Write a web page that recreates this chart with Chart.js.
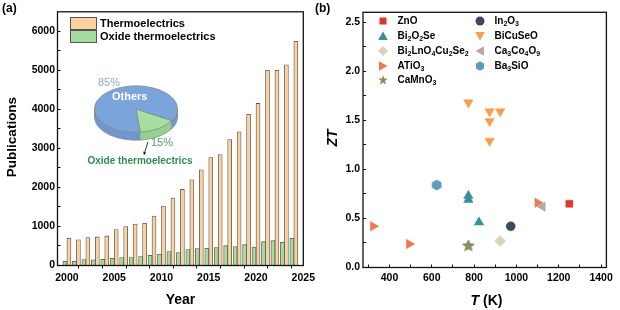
<!DOCTYPE html>
<html>
<head>
<meta charset="utf-8">
<script src="https://cdn.jsdelivr.net/npm/chart.js@4.4.1/dist/chart.umd.min.js"></script>
<style>
body{margin:0;background:#fff;}
#wrap{position:relative;width:620px;height:310px;overflow:hidden;font-family:"Liberation Sans",Arial,sans-serif;}
canvas{position:absolute;}
.t{position:absolute;white-space:nowrap;line-height:1;color:#000;}
.b{font-weight:bold;}
.c{transform:translate(-50%,-50%);}
.sw{position:absolute;box-sizing:border-box;border:1px solid #555;}
.lg{position:absolute;white-space:nowrap;font-weight:bold;font-size:10px;line-height:12px;}
.lg sub{font-size:7px;vertical-align:-2px;line-height:0;}
.mk{position:absolute;}
</style>
</head>
<body>
<div id="wrap">
  <canvas id="pubs" width="330" height="310" style="left:0;top:0"></canvas>
  <canvas id="share" width="90" height="90" style="left:91px;top:63.5px"></canvas>
  <canvas id="zt" width="310" height="310" style="left:310px;top:0"></canvas>

  <div class="t b" style="left:2px;top:2px;font-size:12px">(a)</div>
  <div class="t b" style="left:315px;top:2px;font-size:12px">(b)</div>

  <div class="sw" style="left:70px;top:17px;width:27px;height:13px;background:#FDD19E"></div>
  <div class="sw" style="left:70px;top:30px;width:27px;height:13px;background:#A6DC9E"></div>
  <div class="t b" style="left:100px;top:18px;font-size:11px">Thermoelectrics</div>
  <div class="t b" style="left:100px;top:31px;font-size:11px">Oxide thermoelectrics</div>

  <div class="t" style="left:98px;top:77px;font-size:11px;color:#8DAACA">85%</div>
  <div class="t b" style="left:112px;top:91px;font-size:11px;color:#fff">Others</div>
  <div class="t" style="left:151px;top:137px;font-size:11px;color:#4AA46A">15%</div>
  <svg class="mk" style="left:140px;top:141px" width="12" height="16">
    <line x1="8" y1="1" x2="4.6" y2="11.5" stroke="#222" stroke-width="0.9"/>
    <polygon points="3.2,10.5 6.2,11.4 3.9,14.5" fill="#222"/>
  </svg>
  <div class="t b c" style="left:140px;top:161px;font-size:10px;color:#2E8E4F">Oxide thermoelectrics</div>

  <div class="t b c" style="left:12px;top:137px;font-size:13.5px;transform:translate(-50%,-50%) rotate(-90deg)">Publications</div>
  <div class="t b c" style="left:180.5px;top:299px;font-size:14px">Year</div>
  <div class="t b c" style="left:332px;top:138px;font-size:14px;font-style:italic;transform:translate(-50%,-50%) rotate(-90deg)">ZT</div>
  <div class="t b c" style="left:486.5px;top:300px;font-size:14px"><i>T</i> (K)</div>

  <div id="legendB"></div>
</div>

<script>
// (a) publications per year
const years = [2000,2001,2002,2003,2004,2005,2006,2007,2008,2009,2010,2011,2012,
               2013,2014,2015,2016,2017,2018,2019,2020,2021,2022,2023,2024];
const thermoPubs = [700,660,715,732,757,920,996,1064,1081,1268,1523,1728,1949,
                    2196,2451,2766,2840,3228,3424,3873,4153,5000,5000,5140,5746];
const oxidePubs = [108,110,153,144,161,186,203,203,229,263,288,356,330,
                   407,432,441,458,508,483,534,475,610,636,593,695];
const yearTicks = [2000,2002.5,2005,2007.5,2010,2012.5,2015,2017.5,2020,2022.5,2025];
const yearLabels = [2000,2005,2010,2015,2020,2025];
const pubTicks = [0,500,1000,1500,2000,2500,3000,3500,4000,4500,5000,5500,6000];
const pubLabels = [0,1000,2000,3000,4000,5000,6000];

// inset pie
const pieLabels = ['Oxide thermoelectrics','Others'];
const pieShare = [15,85];

// (b) ZT against temperature
const znoT = [1250], znoZT = [0.65];
const bi2o2seT = [773,773,823], bi2o2seZT = [0.73,0.69,0.46];
const bi2lnT = [923], bi2lnZT = [0.27];
const atio3T = [323,493,1100], atio3ZT = [0.42,0.24,0.66];
const camno3T = [773], camno3ZT = [0.22];
const in2o3T = [973], in2o3ZT = [0.42];
const bicuseoT = [773,873,923,873,873], bicuseoZT = [1.68,1.59,1.59,1.49,1.29];
const ca3co4o9T = [1123], ca3co4o9ZT = [0.62];
const ba3sioT = [623], ba3sioZT = [0.84];
const tempTicks = [300,400,500,600,700,800,900,1000,1100,1200,1300,1400];
const tempLabels = [400,600,800,1000,1200,1400];
const ztTicks = [0,0.25,0.5,0.75,1,1.25,1.5,1.75,2,2.25,2.5];
const ztLabels = [0,0.5,1,1.5,2,2.5];

const FONT = 'Liberation Sans';
const tickFont = {family: FONT, size: 10.5, weight: 'bold'};

const frame = {
  id: 'frame',
  afterDraw(chart) {
    const {ctx, chartArea: a} = chart;
    ctx.save();
    ctx.strokeStyle = '#111';
    ctx.lineWidth = 1.3;
    ctx.strokeRect(a.left, a.top, a.right - a.left, a.bottom - a.top);
    ctx.restore();
  }
};

function pairs(xs, ys) {
  return xs.map((x, i) => ({x: x, y: ys[i]}));
}

function fixTicks(list) {
  return scale => { scale.ticks = list.map(v => ({value: v})); };
}

// ---------- panel (a)
new Chart(document.getElementById('pubs'), {
  type: 'bar',
  data: {
    datasets: [{
      label: 'Oxide thermoelectrics',
      data: pairs(years, oxidePubs),
      backgroundColor: '#A6DC9E',
      borderColor: '#555',
      borderWidth: 0.8,
      barThickness: 4
    }, {
      label: 'Thermoelectrics',
      data: pairs(years, thermoPubs),
      backgroundColor: '#FDD19E',
      borderColor: '#555',
      borderWidth: 0.8,
      barThickness: 4
    }]
  },
  options: {
    responsive: false,
    animation: false,
    events: [],
    layout: {padding: {top: 8.3, right: 26.7, left: 0, bottom: 0}},
    plugins: {legend: {display: false}, tooltip: {enabled: false}},
    scales: {
      x: {
        type: 'linear', min: 1999, max: 2025, offset: false,
        afterBuildTicks: fixTicks(yearTicks),
        afterFit: s => { s.height = 44.5; },
        ticks: {autoSkip: false, maxRotation: 0, font: tickFont, color: '#000', padding: 3,
                callback: v => yearLabels.includes(v) ? String(v) : ''},
        grid: {drawOnChartArea: false, tickLength: 3, tickColor: '#111'},
        border: {display: false}
      },
      y: {
        min: 0, max: 6500,
        afterBuildTicks: fixTicks(pubTicks),
        afterFit: s => { s.width = 57.5; },
        ticks: {autoSkip: false, font: tickFont, color: '#000', padding: 5.5,
                callback: v => pubLabels.includes(v) ? String(v) : ''},
        grid: {drawOnChartArea: false, tickLength: -3, tickColor: '#111'},
        border: {display: false}
      }
    }
  },
  plugins: [frame]
});

// ---------- inset 3D pie
const squash = 23.5 / 42;
const depth = 8;
const sideColors = ['#94D190', '#6E98CF'];
const pie3d = {
  id: 'pie3d',
  beforeDatasetsDraw(chart) {
    const ctx = chart.ctx;
    const arcs = chart.getDatasetMeta(0).data;
    const cx = arcs[0].x, cy = arcs[0].y, r = arcs[0].outerRadius;
    ctx.save();
    ctx.translate(cx, cy);
    ctx.scale(1, squash);
    ctx.translate(-cx, -cy);
    for (let k = depth; k >= 1; k--) {
      ctx.save();
      ctx.translate(0, k / squash);
      arcs.forEach((a, i) => {
        const o = a.options;
        a.options = Object.assign({}, o, {backgroundColor: sideColors[i], borderWidth: k === depth ? 1 : 0});
        a.draw(ctx);
        a.options = o;
      });
      ctx.restore();
    }
    ctx.strokeStyle = '#8a8a8a';
    ctx.lineWidth = 1;
    ctx.beginPath();
    ctx.moveTo(cx - r, cy); ctx.lineTo(cx - r, cy + depth / squash);
    ctx.moveTo(cx + r, cy); ctx.lineTo(cx + r, cy + depth / squash);
    ctx.stroke();
  },
  afterDatasetsDraw(chart) {
    chart.ctx.restore();
  }
};

new Chart(document.getElementById('share'), {
  type: 'pie',
  data: {
    labels: pieLabels,
    datasets: [{
      data: pieShare,
      backgroundColor: ['#A6DFA2', '#7BA5DA'],
      borderColor: '#8a8a8a',
      borderWidth: 1,
      clip: false
    }]
  },
  options: {
    responsive: false,
    animation: false,
    events: [],
    rotation: 120,
    layout: {padding: 3},
    plugins: {legend: {display: false}, tooltip: {enabled: false}}
  },
  plugins: [pie3d]
});

// ---------- panel (b)
function shapeImg(color, edge, r, kind) {
  const s = Math.ceil(r * 2 + 2);
  const c = document.createElement('canvas');
  c.width = c.height = s;
  const g = c.getContext('2d');
  g.beginPath();
  const n = kind === 'star' ? 10 : 6;
  for (let i = 0; i < n; i++) {
    const a = -Math.PI / 2 + i * 2 * Math.PI / n;
    const rr = (kind === 'star' && i % 2) ? r * 0.45 : r;
    g.lineTo(s / 2 + rr * Math.cos(a), s / 2 + rr * Math.sin(a));
  }
  g.closePath();
  g.fillStyle = color;
  g.fill();
  g.strokeStyle = edge;
  g.lineWidth = 0.7;
  g.stroke();
  return c;
}

const series = [
  {name: 'ZnO', T: znoT, ZT: znoZT, color: '#D8382E', style: 'rect', rot: 0, r: 5},
  {name: 'Bi2O2Se', T: bi2o2seT, ZT: bi2o2seZT, color: '#3B8E9C', style: 'triangle', rot: 0, r: 5.5},
  {name: 'Bi2LnO4Cu2Se2', T: bi2lnT, ZT: bi2lnZT, color: '#D6D5B6', style: 'rectRot', rot: 0, r: 5.5},
  {name: 'ATiO3', T: atio3T, ZT: atio3ZT, color: '#EC7A4E', style: 'triangle', rot: 90, r: 5.5},
  {name: 'CaMnO3', T: camno3T, ZT: camno3ZT, color: '#8D8C5A', style: shapeImg('#8D8C5A', '#6f6e45', 6, 'star'), rot: 0, r: 6},
  {name: 'In2O3', T: in2o3T, ZT: in2o3ZT, color: '#3A4B5C', style: 'circle', rot: 0, r: 4.5},
  {name: 'BiCuSeO', T: bicuseoT, ZT: bicuseoZT, color: '#F4A04E', style: 'triangle', rot: 180, r: 5.5},
  {name: 'Ca3Co4O9', T: ca3co4o9T, ZT: ca3co4o9ZT, color: '#B3ABA3', style: 'triangle', rot: -90, r: 5.5},
  {name: 'Ba3SiO', T: ba3sioT, ZT: ba3sioZT, color: '#5E9DBF', style: shapeImg('#5E9DBF', '#4a85a6', 5, 'hex'), rot: 0, r: 5}
];

new Chart(document.getElementById('zt'), {
  type: 'scatter',
  data: {
    datasets: series.map(s => ({
      label: s.name,
      data: pairs(s.T, s.ZT),
      pointStyle: s.style,
      rotation: s.rot,
      pointRadius: s.r,
      backgroundColor: s.color,
      borderColor: s.color,
      borderWidth: 0.5
    }))
  },
  options: {
    responsive: false,
    animation: false,
    events: [],
    layout: {padding: {top: 8, right: 10, left: 0, bottom: 0}},
    plugins: {legend: {display: false}, tooltip: {enabled: false}},
    scales: {
      x: {
        type: 'linear', min: 275, max: 1425,
        afterBuildTicks: fixTicks(tempTicks),
        afterFit: s => { s.height = 42.5; },
        ticks: {autoSkip: false, maxRotation: 0, font: tickFont, color: '#000', padding: 7,
                callback: v => tempLabels.includes(v) ? String(v) : ''},
        grid: {drawOnChartArea: false, tickLength: -3, tickColor: '#111'},
        border: {display: false}
      },
      y: {
        min: 0, max: 2.6,
        afterBuildTicks: fixTicks(ztTicks),
        afterFit: s => { s.width = 53; },
        ticks: {autoSkip: false, font: tickFont, color: '#000', padding: 6,
                callback: v => ztLabels.includes(v) ? v.toFixed(1) : ''},
        grid: {drawOnChartArea: false, tickLength: -3, tickColor: '#111'},
        border: {display: false}
      }
    }
  },
  plugins: [frame]
});

// legend of panel (b), two columns with real subscripts
const legendRows = [
  {name: 'ZnO', html: 'ZnO', x: 383, y: 21},
  {name: 'Bi2O2Se', html: 'Bi<sub>2</sub>O<sub>2</sub>Se', x: 383, y: 36},
  {name: 'Bi2LnO4Cu2Se2', html: 'Bi<sub>2</sub>LnO<sub>4</sub>Cu<sub>2</sub>Se<sub>2</sub>', x: 383, y: 51},
  {name: 'ATiO3', html: 'ATiO<sub>3</sub>', x: 383, y: 65.5},
  {name: 'CaMnO3', html: 'CaMnO<sub>3</sub>', x: 383, y: 80},
  {name: 'In2O3', html: 'In<sub>2</sub>O<sub>3</sub>', x: 480, y: 21},
  {name: 'BiCuSeO', html: 'BiCuSeO', x: 480, y: 36},
  {name: 'Ca3Co4O9', html: 'Ca<sub>3</sub>Co<sub>4</sub>O<sub>9</sub>', x: 480, y: 51},
  {name: 'Ba3SiO', html: 'Ba<sub>3</sub>SiO', x: 480, y: 65.5}
];
const markerSvg = {
  'ZnO': c => `<rect x="1.5" y="1.5" width="7" height="7" fill="${c}"/>`,
  'Bi2O2Se': c => `<polygon points="5,0.5 9.8,9 0.2,9" fill="${c}"/>`,
  'Bi2LnO4Cu2Se2': c => `<polygon points="5,0 10,5 5,10 0,5" fill="${c}"/>`,
  'ATiO3': c => `<polygon points="1,0.2 9.5,5 1,9.8" fill="${c}"/>`,
  'CaMnO3': c => `<polygon points="5,0 6.2,3.4 9.8,3.5 7,5.8 8,9.5 5,7.4 2,9.5 3,5.8 0.2,3.5 3.8,3.4" fill="${c}"/>`,
  'In2O3': c => `<circle cx="5" cy="5" r="4.5" fill="${c}"/>`,
  'BiCuSeO': c => `<polygon points="0.2,1 9.8,1 5,9.5" fill="${c}"/>`,
  'Ca3Co4O9': c => `<polygon points="9,0.2 0.5,5 9,9.8" fill="${c}"/>`,
  'Ba3SiO': c => `<polygon points="5,0.3 9.1,2.6 9.1,7.4 5,9.7 0.9,7.4 0.9,2.6" fill="${c}"/>`
};
const legendBox = document.getElementById('legendB');
legendRows.forEach(row => {
  const s = series.find(d => d.name === row.name);
  legendBox.insertAdjacentHTML('beforeend',
    `<svg class="mk" style="left:${row.x - 5}px;top:${row.y - 5}px" width="10" height="10">${markerSvg[row.name](s.color)}</svg>` +
    `<div class="lg" style="left:${row.x + 14.5}px;top:${row.y - 6}px">${row.html}</div>`);
});
</script>
</body>
</html>
